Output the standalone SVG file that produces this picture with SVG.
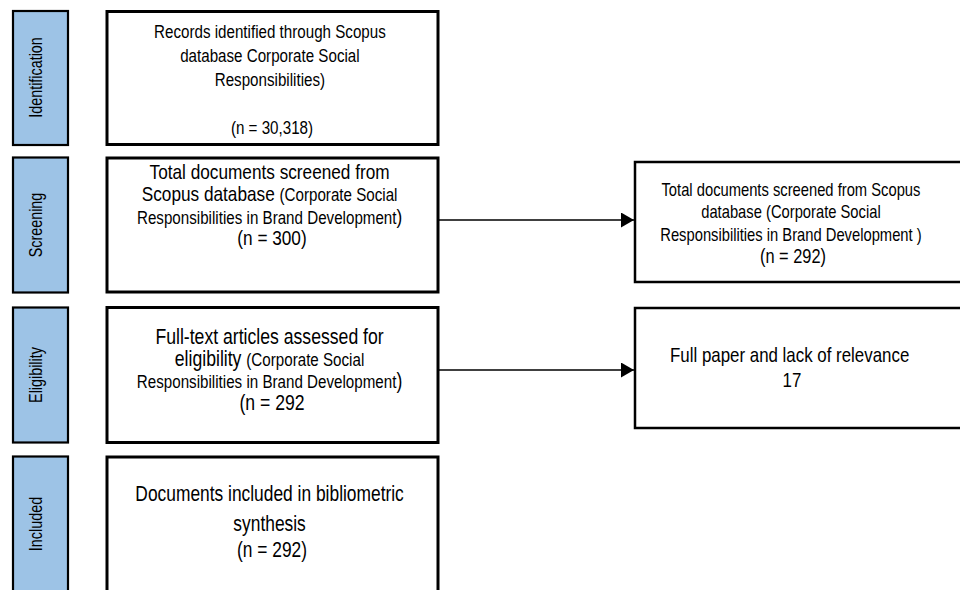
<svg xmlns="http://www.w3.org/2000/svg" width="960" height="590" viewBox="0 0 960 590">
<defs>
<style>
text{font-family:"Liberation Sans",Arial,sans-serif;fill:#000;}
.side rect{fill:#9dc3e6;stroke:#000;stroke-width:2.2;}
.side text{font-size:17.5px;text-anchor:middle;}
.main rect{fill:#fff;stroke:#000;stroke-width:3;}
.right rect{fill:#fff;stroke:#000;stroke-width:2.5;}
.main text,.right text{text-anchor:middle;}
.conn line{stroke:#000;stroke-width:1.4;}
</style>
<marker id="ah" viewBox="0 0 10 10" refX="10" refY="5" markerWidth="13" markerHeight="15" markerUnits="userSpaceOnUse" orient="auto" preserveAspectRatio="none">
<path d="M0,0 L10,5 L0,10 Z" fill="#000"/>
</marker>
</defs>
<rect width="960" height="590" fill="#fff"/>

<g id="side-identification" class="side">
<rect x="13" y="11" width="55" height="134"/>
<text transform="translate(36,77.5) rotate(-90) scale(0.82,1)" dy="0.35em">Identification</text>
</g>
<g id="side-screening" class="side">
<rect x="13" y="157.5" width="55" height="135"/>
<text transform="translate(36,225) rotate(-90) scale(0.82,1)" dy="0.35em">Screening</text>
</g>
<g id="side-eligibility" class="side">
<rect x="13" y="307.5" width="55" height="135"/>
<text transform="translate(36,375) rotate(-90) scale(0.82,1)" dy="0.35em">Eligibility</text>
</g>
<g id="side-included" class="side">
<rect x="13" y="456.5" width="55" height="140"/>
<text transform="translate(36,524) rotate(-90) scale(0.82,1)" dy="0.35em">Included</text>
</g>

<g id="identification" class="main">
<rect x="107" y="11.5" width="331" height="133"/>
<text font-size="18.5" transform="translate(272,0) scale(0.82,1)">
<tspan x="0" y="38">Records identified through Scopus</tspan>
<tspan x="0" y="62">database Corporate Social</tspan>
<tspan x="0" y="86">Responsibilities)</tspan>
<tspan x="0" y="134">(n = 30,318)</tspan>
</text>
</g>

<g id="screening" class="main">
<rect x="107" y="158" width="331" height="134"/>
<text font-size="21" transform="translate(272,0) scale(0.82,1)">
<tspan x="0" y="179">Total documents screened from</tspan>
<tspan x="0" y="201">Scopus database <tspan font-size="18.5">(Corporate Social</tspan></tspan>
<tspan x="0" y="224"><tspan font-size="18.5">Responsibilities in Brand Development</tspan>)</tspan>
<tspan x="0" y="245">(n = 300)</tspan>
</text>
</g>

<g id="eligibility" class="main">
<rect x="107" y="307.5" width="331" height="135"/>
<text font-size="21.5" transform="translate(272,0) scale(0.82,1)">
<tspan x="0" y="344">Full-text articles assessed for</tspan>
<tspan x="0" y="366">eligibility <tspan font-size="18.5">(Corporate Social</tspan></tspan>
<tspan x="0" y="388"><tspan font-size="18.5">Responsibilities in Brand Development</tspan>)</tspan>
<tspan x="0" y="410">(n = 292</tspan>
</text>
</g>

<g id="included" class="main">
<rect x="107" y="457" width="331" height="140"/>
<text font-size="21.2" transform="translate(272,0) scale(0.82,1)">
<tspan x="0" y="501">Documents included in bibliometric</tspan>
<tspan x="0" y="531">synthesis</tspan>
<tspan x="0" y="557">(n = 292)</tspan>
</text>
</g>

<g id="screened-right" class="right">
<rect x="635" y="162" width="330" height="120"/>
<text font-size="18" transform="translate(793,0) scale(0.82,1)">
<tspan x="0" y="196">Total documents screened from Scopus</tspan>
<tspan x="0" y="218">database (Corporate Social</tspan>
<tspan x="0" y="241">Responsibilities in Brand Development )</tspan>
<tspan x="0" y="263" font-size="20">(n = 292)</tspan>
</text>
</g>

<g id="excluded-right" class="right">
<rect x="635" y="308" width="330" height="120"/>
<text font-size="20.6" transform="translate(792,0) scale(0.82,1)">
<tspan x="0" y="362">Full paper and lack of relevance</tspan>
<tspan x="0" y="387">17</tspan>
</text>
</g>

<g id="connectors" class="conn">
<line x1="439" y1="220" x2="634" y2="220" marker-end="url(#ah)"/>
<line x1="439" y1="370" x2="634" y2="370" marker-end="url(#ah)"/>
</g>
</svg>
